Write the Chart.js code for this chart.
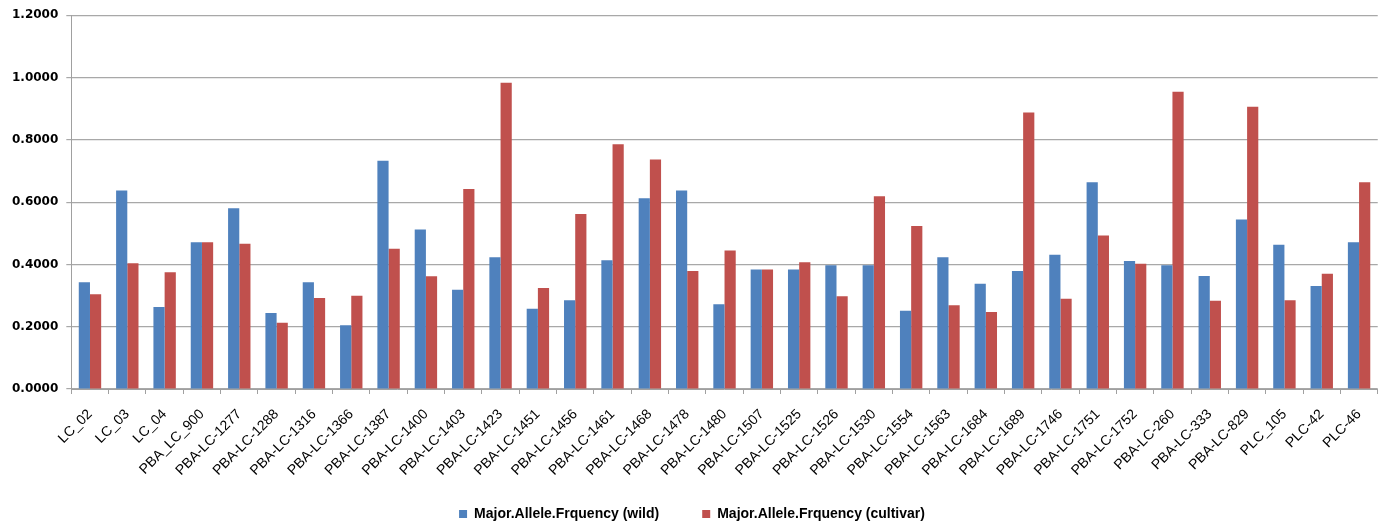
<!DOCTYPE html>
<html>
<head>
<meta charset="utf-8">
<script src="https://cdn.jsdelivr.net/npm/chart.js@4"></script>
<style>
	html, body { margin: 0; padding: 0; background: #ffffff; }
	#wrap { width: 1383px; height: 523px; }
</style>
</head>
<body>
<div id="wrap"><canvas id="chart"></canvas></div>
<script>
// ----------------------------------------------------------------------
const labels = ["LC_02","LC_03","LC_04","PBA_LC_900","PBA-LC-1277","PBA-LC-1288",
	"PBA-LC-1316","PBA-LC-1366","PBA-LC-1387","PBA-LC-1400","PBA-LC-1403","PBA-LC-1423",
	"PBA-LC-1451","PBA-LC-1456","PBA-LC-1461","PBA-LC-1468","PBA-LC-1478","PBA-LC-1480",
	"PBA-LC-1507","PBA-LC-1525","PBA-LC-1526","PBA-LC-1530","PBA-LC-1554","PBA-LC-1563",
	"PBA-LC-1684","PBA-LC-1689","PBA-LC-1746","PBA-LC-1751","PBA-LC-1752","PBA-LC-260",
	"PBA-LC-333","PBA-LC-829","PLC_105","PLC-42","PLC-46"]

const wild = [0.343,0.637,0.263,0.471,0.580,0.244,
	0.343,0.205,0.733,0.512,0.319,0.423,
	0.258,0.285,0.413,0.612,0.637,0.272,
	0.384,0.384,0.397,0.397,0.251,0.423,
	0.338,0.379,0.431,0.664,0.411,0.397,
	0.363,0.544,0.463,0.331,0.471]

const cultivar = [0.304,0.404,0.375,0.471,0.466,0.213,
	0.292,0.299,0.450,0.362,0.642,0.983,
	0.324,0.562,0.786,0.737,0.379,0.445,
	0.384,0.407,0.298,0.619,0.523,0.269,
	0.247,0.888,0.290,0.493,0.402,0.954,
	0.283,0.906,0.285,0.370,0.664]

const series_names = ["Major.Allele.Frquency (wild)","Major.Allele.Frquency (cultivar)"]

// ----------------------------------------------------------------------
function build_data()
{
	const graph_data = {
		labels: labels,
		datasets: [
			{
			label: series_names[0],
			data: wild,
			backgroundColor: "#4F81BD",
			categoryPercentage: 0.6,
			barPercentage: 1.0
			},
			{
			label: series_names[1],
			data: cultivar,
			backgroundColor: "#C0504D",
			categoryPercentage: 0.6,
			barPercentage: 1.0
			}
		]
	}
	return graph_data
}

// ----------------------------------------------------------------------
// x labels run down into the legend's empty top padding, so the
// axis is kept short and its label clip is switched off
function fit_x_axis (scale)
{
	scale.height = 75
	scale._computeLabelArea = function () { return undefined }
}

// ----------------------------------------------------------------------
const config = {
	type: 'bar',
	data: build_data(),
	options: {
		responsive: true,
		maintainAspectRatio: false,
		animation: false,
		layout: { padding: { left: 4, right: 3, top: 5, bottom: -8 } },
		plugins: {
			tooltip: { enabled: false },
			legend: {
				position: 'bottom',
				labels: {
					boxWidth: 8,
					boxHeight: 8,
					padding: 43,
					color: "#000000",
					font: { family: "Liberation Sans", size: 14, weight: 'bold' }
					}
				}
			},
		scales: {
			x: {
				afterFit: fit_x_axis,
				grid: { drawOnChartArea: false, tickLength: 5, color: "#A0A0A0" },
				border: { color: "#A0A0A0" },
				ticks: {
					autoSkip: false,
					maxRotation: 45,
					minRotation: 45,
					padding: 12,
					color: "#000000",
					font: { family: "Liberation Sans", size: 14 }
					}
				},
			y: {
				min: 0,
				max: 1.2,
				grid: { color: "#A8A8A8", tickLength: 5, lineWidth: 1.2 },
				border: { color: "#A0A0A0" },
				ticks: {
					stepSize: 0.2,
					color: "#000000",
					padding: 8,
					font: { family: "DejaVu Sans", size: 12, weight: 'bold' },
					callback: function (v) { return Number(v).toFixed(4) }
					}
				}
			}
		}
	}

const chart = new Chart(document.getElementById("chart"), config)
// ----------------------------------------------------------------------
</script>
</body>
</html>
